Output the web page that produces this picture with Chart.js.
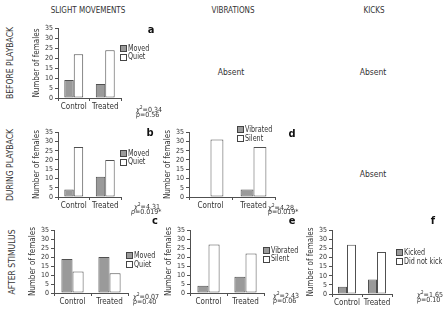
<!DOCTYPE html>
<html>
<head>
<meta charset="utf-8">
<script src="https://cdn.jsdelivr.net/npm/chart.js@4/dist/chart.umd.min.js"></script>
<style>
body{margin:0;background:#fff;width:445px;height:313px;position:relative;overflow:hidden;
  font-family:"DejaVu Sans Condensed","Liberation Sans",sans-serif;color:#333;}
canvas{position:absolute;}
.t{position:absolute;white-space:nowrap;line-height:1;}
.c{transform:translate(-50%,-50%);}
.rot{transform:translate(-50%,-50%) rotate(-90deg);}
.nar{transform-origin:0 50%;transform:scaleX(0.84);}
.sw{position:absolute;width:5px;height:5px;border:1px solid #444;}
</style>
</head>
<body>
<script>
const categories = ['Control', 'Treated'];
const movedBefore = [9, 7];
const quietBefore = [22, 24];
const movedDuring = [4, 11];
const quietDuring = [27, 20];
const movedAfter = [19, 20];
const quietAfter = [12, 11];
const vibratedDuring = [0, 4];
const silentDuring = [31, 27];
const vibratedAfter = [4, 9];
const silentAfter = [27, 22];
const kicked = [4, 8];
const didNotKick = [27, 23];
const yMax = 35;
const yStep = 5;

const FONT = '"DejaVu Sans Condensed","Liberation Sans",sans-serif';
const GRAY = '#9a9a9a';
const EDGE = '#505050';
Chart.defaults.font.family = FONT;
Chart.defaults.color = '#333';

function addText(txt, x, y, size, cls, extra){
    const d = document.createElement('div');
    d.className = 't ' + (cls || '');
    d.style.left = x + 'px';
    d.style.top = y + 'px';
    d.style.fontSize = size + 'px';
    if(extra) d.style.cssText += extra;
    d.innerHTML = txt;
    document.body.appendChild(d);
}

function addLegend(x, y, gap, labels){
    const colors = [GRAY, '#fff'];
    for(let i=0;i<labels.length;i++){
        const s = document.createElement('div');
        s.className = 'sw';
        s.style.left = x + 'px';
        s.style.top = (y + i*gap - 3) + 'px';
        s.style.background = colors[i];
        document.body.appendChild(s);
        addText(labels[i], x + 8, y + i*gap - 4.5, 8.5, 'nar');
    }
}

// L,T,R,B = wanted chart area on the page
function makePanel(L, T, R, B, first, second){
    const yW = 28, padTop = 6, padRight = 3, xH = 16;
    const cv = document.createElement('canvas');
    const w = R - L + yW + padRight, h = B - T + padTop + xH;
    cv.width = w; cv.height = h;
    cv.style.left = (L - yW) + 'px';
    cv.style.top = (T - padTop) + 'px';
    document.body.appendChild(cv);
    new Chart(cv.getContext('2d'), {
        type: 'bar',
        data: {
            labels: categories,
            datasets: [{
                data: first,
                backgroundColor: GRAY,
                borderColor: EDGE,
                borderWidth: 1,
                borderSkipped: false
            },{
                data: second,
                backgroundColor: '#fff',
                borderColor: EDGE,
                borderWidth: 1,
                borderSkipped: false
            }]
        },
        options: {
            responsive: false,
            animation: false,
            events: [],
            layout: { padding: { left: 0, top: padTop, right: padRight, bottom: 0 } },
            plugins: { legend: { display: false }, tooltip: { enabled: false } },
            datasets: { bar: { categoryPercentage: 0.6, barPercentage: 1.0 } },
            scales: {
                x: {
                    afterFit: s => { s.height = xH; },
                    grid: { offset: true, drawOnChartArea: false, drawTicks: true, tickLength: 3, color: EDGE },
                    border: { color: EDGE, width: 1 },
                    ticks: { padding: 1, autoSkip: false, maxRotation: 0, minRotation: 0, font: { size: 8 }, color: '#333' }
                },
                y: {
                    min: 0, max: yMax,
                    afterFit: s => { s.width = yW; },
                    grid: { drawOnChartArea: false, drawTicks: true, tickLength: 3, color: EDGE },
                    border: { color: EDGE, width: 1 },
                    ticks: { stepSize: yStep, autoSkip: false, padding: 2, font: { size: 7 }, color: '#333' },
                    title: { display: true, text: 'Number of females', font: { size: 8 }, color: '#333', padding: { top: 2, bottom: 0 } }
                }
            }
        }
    });
}

// column titles
addText('SLIGHT MOVEMENTS', 88, 11, 8, 'c');
addText('VIBRATIONS', 233, 11, 8, 'c');
addText('KICKS', 374, 11, 8, 'c');
// row titles
addText('BEFORE PLAYBACK', 10, 63, 8.5, 'rot');
addText('DURING PLAYBACK', 10, 165, 8.5, 'rot');
addText('AFTER STIMULUS', 12, 262, 8.5, 'rot');
// absent cells
addText('Absent', 231, 72, 8.5, 'c');
addText('Absent', 373, 72, 8.5, 'c');
addText('Absent', 373, 174, 8.5, 'c');

// a
makePanel(58, 28, 121, 98, movedBefore, quietBefore);
addLegend(120, 48, 8.5, ['Moved', 'Quiet']);
addText('a', 151, 29, 11, 'c', 'font-weight:bold;color:#111');
addText('<i>χ</i><sup style="font-size:5px">2</sup>=0.34', 136, 105, 7);
addText('<i>p</i>=0.56', 136, 112, 7);

// b
makePanel(58, 132, 121, 197, movedDuring, quietDuring);
addLegend(120, 153, 8.5, ['Moved', 'Quiet']);
addText('b', 150, 132, 11, 'c', 'font-weight:bold;color:#111');
addText('<i>χ</i><sup style="font-size:5px">2</sup>=4.31', 134, 202, 7);
addText('<i>p</i>=0.019*', 131, 209, 7);

// c
makePanel(54, 230, 128, 293, movedAfter, quietAfter);
addLegend(126, 255, 9, ['Moved', 'Quiet']);
addText('c', 155, 220, 11, 'c', 'font-weight:bold;color:#111');
addText('<i>χ</i><sup style="font-size:5px">2</sup>=0.07', 133, 292, 7);
addText('<i>p</i>=0.40', 133, 299, 7);

// d
makePanel(189, 132, 275, 197, vibratedDuring, silentDuring);
addLegend(237, 129, 9, ['Vibrated', 'Silent']);
addText('d', 292, 133, 11, 'c', 'font-weight:bold;color:#111');
addText('<i>χ</i><sup style="font-size:5px">2</sup>=4.28', 268, 203, 7);
addText('<i>p</i>=0.019*', 268, 209, 7);

// e
makePanel(190, 230, 264, 293, vibratedAfter, silentAfter);
addLegend(263, 250, 8.5, ['Vibrated', 'Silent']);
addText('e', 292, 220, 11, 'c', 'font-weight:bold;color:#111');
addText('<i>χ</i><sup style="font-size:5px">2</sup>=2.43', 273, 291, 7);
addText('<i>p</i>=0.06', 273, 298, 7);

// f
makePanel(332, 230, 392, 294, kicked, didNotKick);
addLegend(396, 252, 9, ['Kicked', 'Did not kick']);
addText('f', 433, 220, 11, 'c', 'font-weight:bold;color:#111');
addText('<i>χ</i><sup style="font-size:5px">2</sup>=1.65', 417, 290, 7);
addText('<i>p</i>=0.10', 417, 297, 7);
</script>
</body>
</html>
